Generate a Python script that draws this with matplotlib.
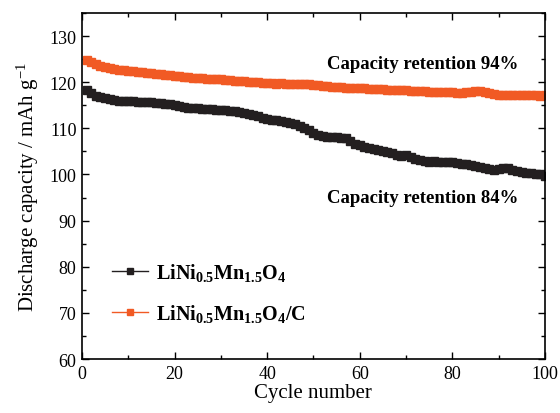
import numpy as np
import matplotlib
matplotlib.use("Agg")
import matplotlib.pyplot as plt
from matplotlib.ticker import MultipleLocator

plt.rcParams['font.family'] = ['Liberation Serif', 'DejaVu Serif']
plt.rcParams['mathtext.fontset'] = 'custom'
plt.rcParams['mathtext.rm'] = 'Liberation Serif'
plt.rcParams['mathtext.it'] = 'Liberation Serif:italic'
plt.rcParams['mathtext.bf'] = 'Liberation Serif:bold'

cycles = np.arange(1, 101)

# LiNi0.5Mn1.5O4 (bare)
cap_bare = [
    118.4, 117.6, 117.1, 116.8, 116.5, 116.3, 116.2, 116.0, 115.9, 116.0,
    115.9, 115.8, 115.8, 115.7, 115.6, 115.5, 115.5, 115.3, 115.2, 115.0,
    114.9, 114.6, 114.5, 114.4, 114.3, 114.2, 114.2, 114.1, 114.0, 114.0,
    113.9, 113.8, 113.7, 113.6, 113.4, 113.1, 112.8, 112.6, 112.3, 112.0,
    111.9, 111.8, 111.6, 111.3, 111.1, 110.9, 110.5, 110.1, 109.6, 109.0,
    108.5, 108.3, 108.2, 108.2, 108.1, 108.0, 107.8, 107.2, 106.6, 106.3,
    106.0, 105.7, 105.5, 105.2, 105.0, 104.9, 104.6, 104.3, 104.1, 104.2,
    103.8, 103.4, 103.1, 102.9, 102.8, 102.9, 102.8, 102.6, 102.7, 102.6,
    102.4, 102.2, 102.3, 102.0, 101.8, 101.7, 101.4, 101.2, 100.9, 101.1,
    101.4, 101.3, 101.0, 100.8, 100.6, 100.4, 100.3, 100.2, 100.0, 99.6,
]

# LiNi0.5Mn1.5O4/C (carbon coated)
cap_coated = [
    124.8, 124.4, 124.0, 123.6, 123.4, 123.1, 122.9, 122.7, 122.6, 122.5,
    122.4, 122.3, 122.2, 122.1, 121.9, 121.8, 121.8, 121.6, 121.5, 121.4,
    121.3, 121.2, 121.1, 121.0, 121.0, 120.9, 120.8, 120.7, 120.7, 120.6,
    120.5, 120.4, 120.3, 120.3, 120.2, 120.1, 120.1, 120.0, 119.9, 119.9,
    119.8, 119.7, 119.8, 119.7, 119.6, 119.6, 119.6, 119.7, 119.6, 119.5,
    119.3, 119.2, 119.1, 119.0, 118.9, 118.9, 118.8, 118.8, 118.7, 118.7,
    118.7, 118.6, 118.6, 118.5, 118.5, 118.4, 118.4, 118.4, 118.3, 118.3,
    118.2, 118.1, 118.0, 118.0, 117.9, 117.9, 117.8, 117.8, 117.8, 117.8,
    117.7, 117.7, 117.8, 117.9, 118.0, 118.0, 117.9, 117.6, 117.4, 117.3,
    117.2, 117.2, 117.2, 117.2, 117.2, 117.2, 117.2, 117.2, 117.1, 117.2,
]

labels = [r'$\mathbf{LiNi_{0.5}Mn_{1.5}O_4}$',
          r'$\mathbf{LiNi_{0.5}Mn_{1.5}O_4/C}$']
colors = ['#231f20', '#f15a24']

fig = plt.figure(figsize=(5.6, 4.14), dpi=100)
ax = fig.add_axes([0.1464, 0.1304, 0.8266, 0.8358])

for y, c, lab in zip([cap_bare, cap_coated], colors, labels):
    ax.plot(cycles, y, color=c, lw=1.5, marker='s', ms=5.5, mec=c, mfc=c,
            label=lab)

ax.set_xlim(0, 100)
ax.set_ylim(60, 135)
ax.xaxis.set_major_locator(MultipleLocator(20))
ax.xaxis.set_minor_locator(MultipleLocator(10))
ax.yaxis.set_major_locator(MultipleLocator(10))
ax.yaxis.set_minor_locator(MultipleLocator(5))
ax.tick_params(which='both', direction='in', top=True, right=True,
               labelsize=13, width=1)
ax.tick_params(which='major', length=5, pad=4)
ax.tick_params(which='minor', length=3)
for s in ax.spines.values():
    s.set_linewidth(1.2)

ax.set_xlabel('Cycle number', fontsize=15, labelpad=1)
ax.set_ylabel(r'Discharge capacity / mAh g$^{-1}$', fontsize=15, labelpad=6)

ax.text(73.6, 124.0, 'Capacity retention 94%', fontsize=13.5,
        fontweight='bold', ha='center', va='center')
ax.text(73.6, 95.0, 'Capacity retention 84%', fontsize=13.5,
        fontweight='bold', ha='center', va='center')

leg = ax.legend(loc='lower left', bbox_to_anchor=(0.025, 0.05), frameon=False,
                fontsize=14.5, labelspacing=0.9, handlelength=1.8,
                handletextpad=0.4, markerscale=0.8)
for h in leg.legend_handles:
    h.set_linewidth(1.0)

fig.savefig('out.png', dpi=100)
